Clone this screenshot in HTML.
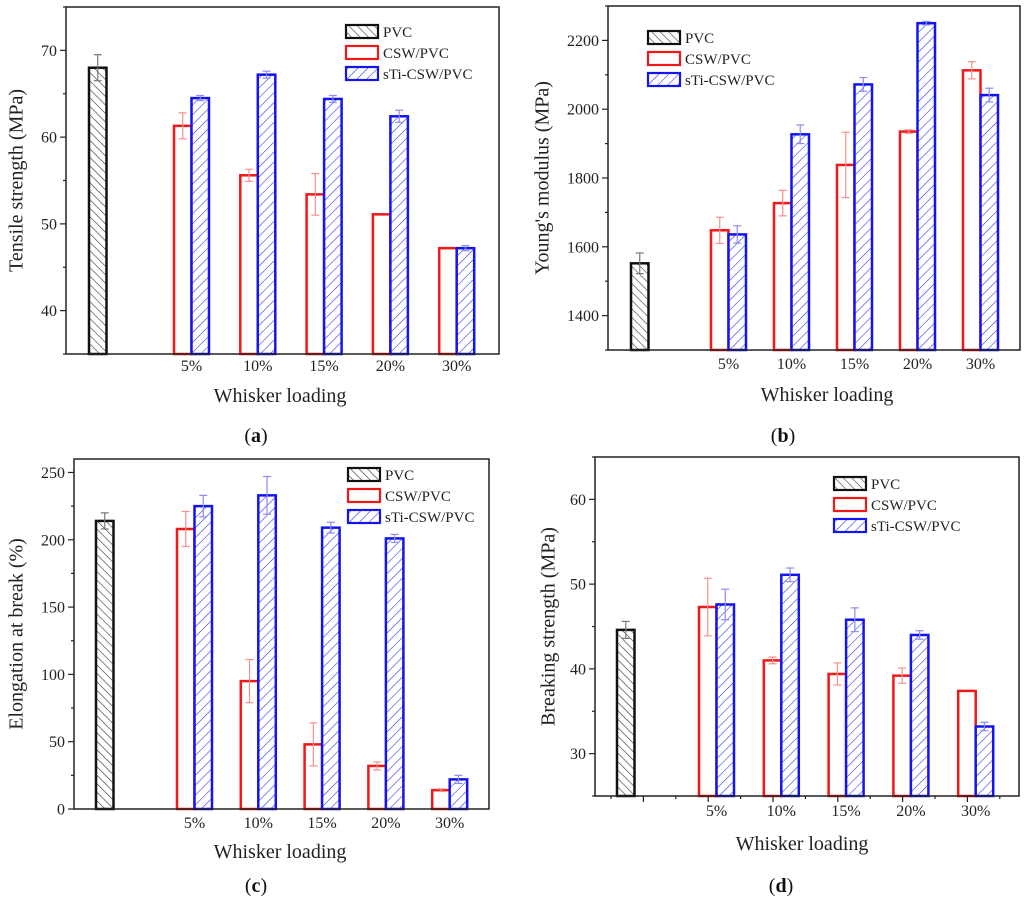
<!DOCTYPE html>
<html><head><meta charset="utf-8"><style>
html,body{margin:0;padding:0;background:#fff;}
svg{display:block;font-family:"Liberation Serif",serif;}
</style></head><body>
<svg id="fig" width="1024" height="902" viewBox="0 0 1024 902" xmlns="http://www.w3.org/2000/svg">
<defs>
<pattern id="hBlack" patternUnits="userSpaceOnUse" width="6" height="6" patternTransform="rotate(-45)"><rect width="6" height="6" fill="#fff"/><line x1="0" y1="0" x2="0" y2="6" stroke="#333" stroke-width="1.2"/></pattern>
<pattern id="hBlue" patternUnits="userSpaceOnUse" width="7" height="7" patternTransform="rotate(45)"><rect width="7" height="7" fill="#fff"/><line x1="0" y1="0" x2="0" y2="7" stroke="#2a2ae8" stroke-width="1.1"/></pattern>
</defs>
</svg>
<script>
const groups = ["5%","10%","15%","20%","30%"];
const legendNames = ["PVC","CSW/PVC","sTi-CSW/PVC"];
// (a) Tensile strength
const aPVC = 68.0, aPVCerr = 1.5;
const aCSW = [61.3,55.6,53.4,51.1,47.2];
const aCSWerr = [1.5,0.7,2.4,0,0];
const aSTI = [64.5,67.2,64.4,62.4,47.2];
const aSTIerr = [0.3,0.4,0.4,0.7,0.3];
const aTicks = [40,50,60,70];
// (b) Young's modulus
const bPVC = 1552, bPVCerr = 30;
const bCSW = [1648,1727,1838,1935,2113];
const bCSWerr = [38,37,95,5,25];
const bSTI = [1636,1927,2072,2250,2041];
const bSTIerr = [25,27,20,5,20];
const bTicks = [1400,1600,1800,2000,2200];
// (c) Elongation at break
const cPVC = 214, cPVCerr = 6;
const cCSW = [208,95,48,32,14];
const cCSWerr = [13,16,16,3,1];
const cSTI = [225,233,209,201,22];
const cSTIerr = [8,14,4,3,3];
const cTicks = [0,50,100,150,200,250];
// (d) Breaking strength
const dPVC = 44.6, dPVCerr = 1.0;
const dCSW = [47.3,41.0,39.4,39.2,37.4];
const dCSWerr = [3.4,0.4,1.3,0.9,0];
const dSTI = [47.6,51.1,45.8,44.0,33.2];
const dSTIerr = [1.8,0.8,1.4,0.5,0.5];
const dTicks = [30,40,50,60];

const NS="http://www.w3.org/2000/svg";
const svg=document.getElementById('fig');
function mk(tag,attrs,parent){const e=document.createElementNS(NS,tag);for(const k in attrs)e.setAttribute(k,attrs[k]);(parent||svg).appendChild(e);return e;}

const panels=[
 {id:'a',x0:66,x1:499,y0:7,y1:354,min:35,max:75,minor:5,pvcX:89,g0:174,gs:66.3,bw:17.5,title:'Tensile strength (MPa)',tX:18,xlY:371,xtY:402,leg:[346,25],lab:'a',labX:256,labY:442,pvc:aPVC,pvcE:aPVCerr,csw:aCSW,cswE:aCSWerr,sti:aSTI,stiE:aSTIerr,ticks:aTicks},
 {id:'b',x0:608,x1:1020,y0:6,y1:350,min:1300,max:2300,minor:100,pvcX:631,g0:711,gs:63,bw:17.5,title:"Young's modulus (MPa)",tX:544,xlY:369,xtY:401,leg:[648,31],lab:'b',labX:783,labY:442,pvc:bPVC,pvcE:bPVCerr,csw:bCSW,cswE:bCSWerr,sti:bSTI,stiE:bSTIerr,ticks:bTicks},
 {id:'c',x0:74,x1:489,y0:459,y1:809,min:0,max:260,minor:25,pvcX:96,g0:177,gs:63.8,bw:17.5,title:'Elongation at break (%)',tX:18,xlY:828,xtY:858,leg:[348,468],lab:'c',labX:256,labY:892,pvc:cPVC,pvcE:cPVCerr,csw:cCSW,cswE:cCSWerr,sti:cSTI,stiE:cSTIerr,ticks:cTicks},
 {id:'d',x0:595,x1:1019,y0:457,y1:796,min:25,max:65,minor:5,pvcX:617,g0:699,gs:64.8,bw:17.5,title:'Breaking strength (MPa)',tX:550,xlY:816,xtY:850,leg:[834,477],lab:'d',labX:781,labY:892,pvc:dPVC,pvcE:dPVCerr,csw:dCSW,cswE:dCSWerr,sti:dSTI,stiE:dSTIerr,ticks:dTicks,xticks:true}
];

panels.forEach(p=>{
  const g=mk('g',{});
  
  
  const y=v=>p.y1-(v-p.min)/(p.max-p.min)*(p.y1-p.y0);
  const clampY=v=>Math.max(y(v),p.y0);
  function bar(x,v,fill,stroke,name){
    const top=y(v);
    const r=mk('rect',{x:x,y:top,width:p.bw,height:p.y1-top,fill:fill,stroke:stroke,'stroke-width':2.5},g);
    
    
  }
  function err(x,v,e,col,name){
    if(e<=0)return;
    const cx=x+p.bw/2;
    const ge=mk('g',{stroke:col,'stroke-width':1.2,fill:'none'},g);
    
    
    mk('line',{x1:cx,y1:y(v+e),x2:cx,y2:y(v-e)},ge);
    mk('line',{x1:cx-4,y1:y(v+e),x2:cx+4,y2:y(v+e)},ge);
    mk('line',{x1:cx-4,y1:y(v-e),x2:cx+4,y2:y(v-e)},ge);
  }
  bar(p.pvcX,p.pvc,'url(#hBlack)','#111','bar-pvc');
  err(p.pvcX,p.pvc,p.pvcE,'#777','error-pvc');
  groups.forEach((gname,i)=>{
    const xl=p.g0+i*p.gs;
    bar(xl,p.csw[i],'#fff','#f21818','bar-csw-'+gname);
    bar(xl+p.bw,p.sti[i],'url(#hBlue)','#1414f0','bar-sti-'+gname);
    err(xl,p.csw[i],p.cswE[i],'#f59090','error-csw-'+gname);
    err(xl+p.bw,p.sti[i],p.stiE[i],'#8c8cf0','error-sti-'+gname);
    const t=mk('text',{x:xl+p.bw,y:p.xlY,'font-size':16,'text-anchor':'middle',fill:'#222'},g);
    t.textContent=gname;
    
    
  });
  // frame
  const fr=mk('rect',{x:p.x0,y:p.y0,width:p.x1-p.x0,height:p.y1-p.y0,fill:'none',stroke:'#222','stroke-width':1.5},g);
  
  
  // y ticks
  for(let v=p.min;v<=p.max+1e-9;v+=p.minor){
    const isMajor=p.ticks.indexOf(Math.round(v*1000)/1000)>=0;
    mk('line',{x1:p.x0-(isMajor?6:3),y1:y(v),x2:p.x0,y2:y(v),stroke:'#222','stroke-width':1.2},g);
  }
  p.ticks.forEach(v=>{
    const t=mk('text',{x:p.x0-9,y:y(v)+5.5,'font-size':16,'text-anchor':'end',fill:'#222'},g);
    t.textContent=v;
    
    
  });
  if(p.xticks){
    for(let k=0;k<13;k++){
      const xx=611+k*32.4;
      mk('line',{x1:xx,y1:p.y1,x2:xx,y2:p.y1+(k%2===1?6:3),stroke:'#222','stroke-width':1.2},g);
    }
  }
  // axis titles
  const yc=(p.y0+p.y1)/2;
  const yt=mk('text',{x:p.tX,y:yc,'font-size':20,'text-anchor':'middle',fill:'#222',transform:'rotate(-90 '+p.tX+' '+yc+')','dominant-baseline':'middle'},g);
  yt.textContent=p.title;
  
  
  const xt=mk('text',{x:p.id==='a'||p.id==='c'?280:(p.id==='b'?827:802),y:p.xtY,'font-size':20,'text-anchor':'middle',fill:'#222'},g);
  xt.textContent='Whisker loading';
  
  
  // legend
  const lg=mk('g',{},g);
  
  
  const fills=['url(#hBlack)','#fff','url(#hBlue)'];
  const strokes=['#111','#f21818','#1414f0'];
  legendNames.forEach((n,i)=>{
    const ly=p.leg[1]+i*21;
    const e=mk('g',{},lg);
    
    
    mk('rect',{x:p.leg[0],y:ly,width:32,height:13,fill:fills[i],stroke:strokes[i],'stroke-width':2.2},e);
    const t=mk('text',{x:p.leg[0]+37,y:ly+12,'font-size':15,fill:'#222'},e);
    t.textContent=n;
  });
  const lb=mk('text',{x:p.labX,y:p.labY,'font-size':20,'text-anchor':'middle',fill:'#111'},g);
  lb.innerHTML='(<tspan font-weight="bold">'+p.lab+'</tspan>)';
  
  
});
</script>
</body></html>
